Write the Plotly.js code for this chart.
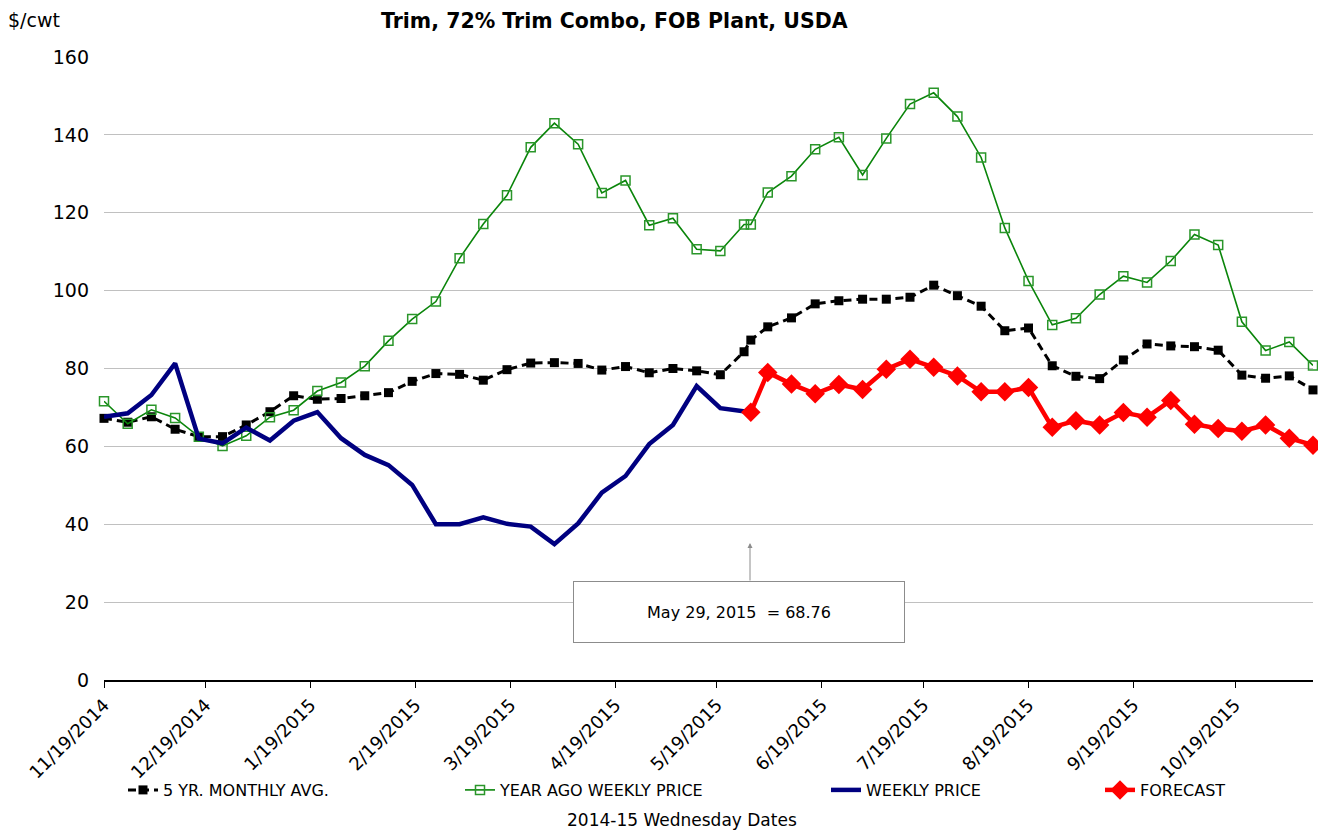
<!DOCTYPE html>
<html>
<head>
<meta charset="utf-8">
<script src="https://cdn.plot.ly/plotly-3.0.1.min.js"></script>
<style>html,body{margin:0;padding:0;background:#fff;}#chart{width:1318px;height:831px;}</style>
</head>
<body>
<div id="chart"></div>
<script>
// Wednesday dates (plus the extra May 29, 2015 point)
const dates = [
  '2014-11-19','2014-11-26','2014-12-03','2014-12-10','2014-12-17','2014-12-24','2014-12-31',
  '2015-01-07','2015-01-14','2015-01-21','2015-01-28','2015-02-04','2015-02-11','2015-02-18','2015-02-25',
  '2015-03-04','2015-03-11','2015-03-18','2015-03-25','2015-04-01','2015-04-08','2015-04-15','2015-04-22','2015-04-29',
  '2015-05-06','2015-05-13','2015-05-20','2015-05-27','2015-05-29',
  '2015-06-03','2015-06-10','2015-06-17','2015-06-24','2015-07-01','2015-07-08','2015-07-15','2015-07-22','2015-07-29',
  '2015-08-05','2015-08-12','2015-08-19','2015-08-26','2015-09-02','2015-09-09','2015-09-16','2015-09-23','2015-09-30',
  '2015-10-07','2015-10-14','2015-10-21','2015-10-28','2015-11-04','2015-11-11'
];

const fiveYrAvg = [
  67.2,66.2,67.6,64.4,62.5,62.5,65.5,68.9,73.0,72.1,72.3,73.0,73.8,76.7,78.7,78.5,77.0,79.7,81.4,81.5,
  81.3,79.6,80.5,78.9,80.0,79.4,78.4,84.3,87.3,90.7,93.0,96.6,97.4,97.8,97.8,98.3,101.4,98.7,96.0,89.7,
  90.4,80.7,78.0,77.4,82.2,86.3,85.8,85.6,84.7,78.3,77.5,78.1,74.5
];

const yearAgo = [
  71.6,65.8,69.4,67.3,62.5,60.1,62.7,67.5,69.3,74.2,76.4,80.6,87.1,92.7,97.2,108.3,117.1,124.5,136.8,143.0,
  137.6,125.1,128.3,116.8,118.6,110.6,110.2,117.0,117.0,125.2,129.4,136.3,139.4,129.7,139.1,147.9,150.8,144.7,134.2,116.1,
  102.5,91.2,92.9,99.0,103.7,102.1,107.6,114.4,111.7,92.0,84.6,86.8,80.8
];

const weekly = [
  67.6,68.5,73.2,81.3,62.0,60.8,64.8,61.5,66.6,68.8,62.1,57.8,55.2,50.1,40.0,40.0,41.8,40.1,39.4,34.9,
  40.2,48.1,52.4,60.6,65.5,75.5,69.8,69.0,68.76,
  null,null,null,null,null,null,null,null,null,null,null,null,null,null,null,null,null,null,null,null,null,null,null,null,null
];

const forecast = [
  null,null,null,null,null,null,null,null,null,null,null,null,null,null,null,null,null,null,null,null,
  null,null,null,null,null,null,null,null,
  68.76,79.0,76.0,73.5,75.9,74.6,79.8,82.4,80.3,78.1,74.0,74.0,75.1,64.9,66.6,65.5,68.7,67.5,71.8,65.7,64.6,63.9,65.5,62.1,60.3
];

const tickDates = ['2014-11-19','2014-12-19','2015-01-19','2015-02-19','2015-03-19','2015-04-19','2015-05-19',
  '2015-06-19','2015-07-19','2015-08-19','2015-09-19','2015-10-19'];

const FONT = 'Verdana, "DejaVu Sans", sans-serif';

const traces = [
  {x: dates, y: fiveYrAvg, name: '5 YR. MONTHLY AVG.', type: 'scatter', mode: 'lines+markers',
   line: {color: '#000000', width: 3, dash: '8px,5px'},
   marker: {symbol: 'square', size: 9, color: '#000000'}, cliponaxis: false, legend: 'legend'},
  {x: dates, y: yearAgo, name: 'YEAR AGO WEEKLY PRICE', type: 'scatter', mode: 'lines+markers',
   line: {color: '#0a850a', width: 1.6},
   marker: {symbol: 'square-open', size: 9, color: '#2a962a', line: {width: 1.5}}, cliponaxis: false, legend: 'legend2'},
  {x: dates, y: weekly, name: 'WEEKLY PRICE', type: 'scatter', mode: 'lines',
   line: {color: '#000080', width: 4.5}, cliponaxis: false, legend: 'legend3'},
  {x: dates, y: forecast, name: 'FORECAST', type: 'scatter', mode: 'lines+markers',
   line: {color: '#ff0000', width: 4.5},
   marker: {symbol: 'diamond', size: 15, color: '#ff0000'}, cliponaxis: false, legend: 'legend4'}
];

const W = 1318, L = 104, R = 5, T = 57, B = 151;
const pw = W - L - R, ph = 831 - T - B;
function px(xp){ return (xp - L) / pw; }
function py(yp){ return (831 - B - yp) / ph; }

const legendCommon = {orientation: 'h', yanchor: 'middle', xanchor: 'left', bgcolor: 'rgba(0,0,0,0)',
  font: {family: FONT, size: 16, color: '#000'}};

const layout = {
  width: 1318, height: 831,
  margin: {l: L, r: R, t: T, b: B},
  paper_bgcolor: '#ffffff', plot_bgcolor: '#ffffff',
  font: {family: FONT, color: '#000'},
  showlegend: true,
  xaxis: {
    type: 'date', range: ['2014-11-19', '2015-11-11'],
    tickvals: tickDates, tickformat: '%-m/%-d/%Y', tickangle: -45,
    tickfont: {family: FONT, size: 18, color: '#000'},
    showgrid: false, zeroline: false,
    showline: true, linecolor: '#000', linewidth: 1.5,
    ticks: 'outside', ticklen: 6, tickcolor: '#000', tickwidth: 1
  },
  yaxis: {
    range: [0, 160], dtick: 20, tick0: 0,
    tickfont: {family: FONT, size: 19, color: '#000'},
    showgrid: true, gridcolor: '#c0c0c0', gridwidth: 1,
    zeroline: false, showline: false, ticks: '', ticklabelstandoff: 14
  },
  legend: Object.assign({}, legendCommon, {x: px(123), y: py(790)}),
  legend2: Object.assign({}, legendCommon, {x: px(460), y: py(790)}),
  legend3: Object.assign({}, legendCommon, {x: px(826), y: py(790)}),
  legend4: Object.assign({}, legendCommon, {x: px(1100), y: py(790)}),
  annotations: [
    {text: '<b>Trim, 72% Trim Combo, FOB Plant, USDA</b>', xref: 'paper', yref: 'paper',
     x: px(614), y: py(21), xanchor: 'center', yanchor: 'middle', showarrow: false,
     font: {family: FONT, size: 20.5, color: '#000'}},
    {text: '$/cwt', xref: 'paper', yref: 'paper', x: px(6), y: py(20), xanchor: 'left', yanchor: 'middle',
     showarrow: false, font: {family: FONT, size: 19, color: '#000'}},
    {text: '2014-15 Wednesday Dates', xref: 'paper', yref: 'paper', x: px(682), y: py(820),
     xanchor: 'center', yanchor: 'middle', showarrow: false, font: {family: FONT, size: 17, color: '#000'}},
    {text: 'May 29, 2015  = 68.76', xref: 'paper', yref: 'paper', x: px(739), y: py(612),
     xanchor: 'center', yanchor: 'middle', showarrow: false, width: 328, height: 58,
     bordercolor: '#8c8c8c', borderwidth: 1, bgcolor: '#ffffff',
     font: {family: FONT, size: 16, color: '#000'}},
    {text: '', xref: 'paper', yref: 'paper', x: px(750), y: py(543), showarrow: true,
     axref: 'pixel', ayref: 'pixel', ax: 0, ay: 39, arrowhead: 2, arrowsize: 1, arrowwidth: 1,
     arrowcolor: '#8c8c8c', standoff: 0}
  ]
};

Plotly.newPlot('chart', traces, layout, {displayModeBar: false, staticPlot: true});
</script>
</body>
</html>
